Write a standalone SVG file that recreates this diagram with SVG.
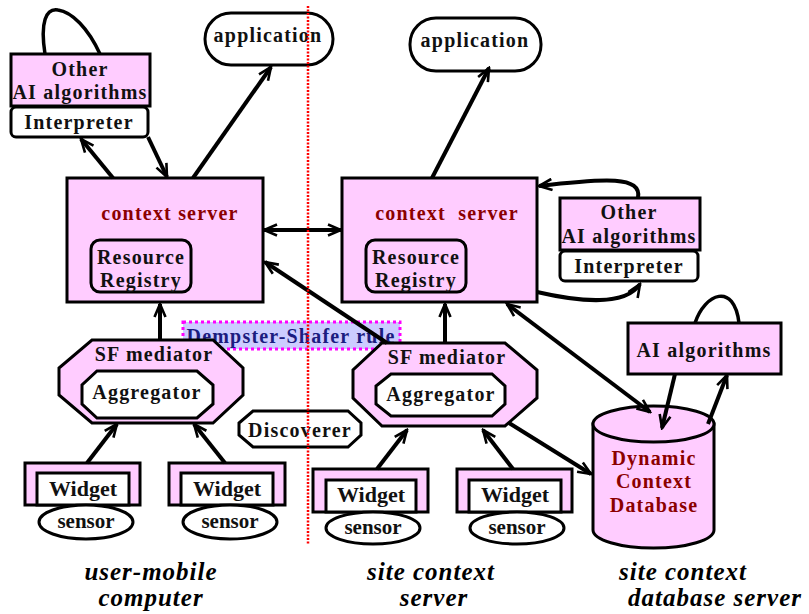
<svg xmlns="http://www.w3.org/2000/svg" width="809" height="614" viewBox="0 0 809 614">
  <style>
    .box { fill: #ffccff; stroke: #000; stroke-width: 3; }
    .wbox { fill: #fff; stroke: #000; stroke-width: 3; }
    .t { font-family: "Liberation Serif", "Times New Roman", serif; font-weight: bold; font-size: 20px; fill: #111; text-anchor: middle; letter-spacing: 1.2px; }
    .red { fill: #8b0000; }
    .ds { fill: #1c1c80; }
    .w { font-size: 22px; letter-spacing: 0; }
    .s { font-size: 21px; letter-spacing: 0; }
    .cap { font-family: "Liberation Serif", "Times New Roman", serif; font-weight: bold; font-style: italic; font-size: 25px; fill: #000; text-anchor: middle; letter-spacing: 1px; }
    .c { fill: none; stroke: #000; stroke-width: 4; marker-end: url(#ah); }
    .c2 { marker-start: url(#ah); }
    .loop { fill: none; stroke: #000; stroke-width: 3.5; }
  </style>
  <defs>
    <marker id="ah" viewBox="0 0 16 14" refX="14" refY="7" markerWidth="16" markerHeight="14" markerUnits="userSpaceOnUse" orient="auto-start-reverse">
      <path d="M1,1.5 L14,7 L1,12.5" fill="none" stroke="#000" stroke-width="2.6" stroke-linejoin="miter"/>
    </marker>
  </defs>

  <!-- user-mobile computer side -->
  <g id="left-other-ai">
    <rect class="box" x="11" y="54" width="139" height="52"/>
    <text class="t" x="80" y="76">Other</text>
    <text class="t" x="80" y="99">AI algorithms</text>
  </g>
  <g id="left-interpreter">
    <rect class="wbox" x="11" y="107" width="137" height="30" rx="5"/>
    <text class="t" x="79" y="129">Interpreter</text>
  </g>
  <g id="left-application">
    <rect class="wbox" x="205" y="13" width="128" height="52" rx="26"/>
    <text class="t" x="268" y="42">application</text>
  </g>
  <g id="left-context-server">
    <rect class="box" x="67" y="178" width="196" height="124"/>
    <text class="t red" x="170" y="220">context server</text>
    <rect class="box" x="91" y="240" width="100" height="52" rx="9"/>
    <text class="t" x="141" y="264">Resource</text>
    <text class="t" x="141" y="287">Registry</text>
  </g>
  <g id="dempster-shafer">
    <rect x="183" y="322" width="217" height="27" fill="#ccccff" stroke="#ff00ff" stroke-width="3" stroke-dasharray="3,3"/>
    <text class="t ds" x="291" y="343">Dempster-Shafer rule</text>
  </g>
  <g id="left-sf-mediator">
    <polygon class="box" points="92,340 213,340 243,368 243,395 213,423 92,423 59,395 59,368"/>
    <text class="t" x="154" y="361">SF mediator</text>
    <polygon class="wbox" points="97,371 197,371 213,385 213,404 197,418 97,418 82,404 82,385"/>
    <text class="t" x="147" y="399">Aggregator</text>
  </g>
  <g id="discoverer">
    <polygon class="wbox" points="253,411 348,411 361,423 361,435 348,447 253,447 239,435 239,423"/>
    <text class="t" x="300" y="437">Discoverer</text>
  </g>
  <g id="left-widget-1">
    <rect class="box" x="25" y="463" width="115" height="42"/>
    <rect class="wbox" x="37" y="473" width="92" height="32"/>
    <text class="t w" x="83" y="496">Widget</text>
    <ellipse class="wbox" cx="86" cy="522" rx="47" ry="17"/>
    <text class="t s" x="86" y="528">sensor</text>
  </g>
  <g id="left-widget-2">
    <rect class="box" x="169" y="463" width="116" height="42"/>
    <rect class="wbox" x="181" y="473" width="92" height="32"/>
    <text class="t w" x="227" y="496">Widget</text>
    <ellipse class="wbox" cx="230" cy="522" rx="47" ry="17"/>
    <text class="t s" x="230" y="528">sensor</text>
  </g>

  <!-- site context server side -->
  <g id="right-application">
    <rect class="wbox" x="410" y="18" width="131" height="53" rx="26"/>
    <text class="t" x="475" y="47">application</text>
  </g>
  <g id="right-context-server">
    <rect class="box" x="342" y="178" width="195" height="124"/>
    <text class="t red" x="447" y="220" xml:space="preserve">context  server</text>
    <rect class="box" x="366" y="240" width="100" height="52" rx="9"/>
    <text class="t" x="416" y="264">Resource</text>
    <text class="t" x="416" y="287">Registry</text>
  </g>
  <g id="right-other-ai">
    <rect class="box" x="560" y="198" width="140" height="52"/>
    <text class="t" x="629" y="219">Other</text>
    <text class="t" x="629" y="243">AI algorithms</text>
  </g>
  <g id="right-interpreter">
    <rect class="wbox" x="560" y="251" width="138" height="30" rx="5"/>
    <text class="t" x="629" y="273">Interpreter</text>
  </g>
  <g id="right-sf-mediator">
    <polygon class="box" points="382,343 505,343 537,370 537,398 505,426 382,426 353,398 353,370"/>
    <text class="t" x="447" y="364">SF mediator</text>
    <polygon class="wbox" points="391,374 492,374 505,386 505,404 492,416 391,416 376,404 376,386"/>
    <text class="t" x="441" y="401">Aggregator</text>
  </g>
  <g id="right-widget-1">
    <rect class="box" x="313" y="469" width="115" height="43"/>
    <rect class="wbox" x="326" y="480" width="90" height="32"/>
    <text class="t w" x="371" y="502">Widget</text>
    <ellipse class="wbox" cx="373" cy="528" rx="47" ry="16"/>
    <text class="t s" x="373" y="534">sensor</text>
  </g>
  <g id="right-widget-2">
    <rect class="box" x="457" y="469" width="115" height="43"/>
    <rect class="wbox" x="469" y="480" width="92" height="32"/>
    <text class="t w" x="515" y="502">Widget</text>
    <ellipse class="wbox" cx="517" cy="528" rx="47" ry="16"/>
    <text class="t s" x="517" y="534">sensor</text>
  </g>

  <!-- site context database server side -->
  <g id="ai-algorithms">
    <rect class="box" x="628" y="323" width="153" height="51"/>
    <text class="t" x="704" y="357">AI algorithms</text>
  </g>
  <g id="context-database">
    <path class="box" d="M593,424 L593,530 A60.5,18 0 0 0 714,530 L714,424 Z"/>
    <ellipse class="box" cx="653.5" cy="424" rx="60.5" ry="18"/>
    <text class="t red" x="654" y="465">Dynamic</text>
    <text class="t red" x="654" y="488">Context</text>
    <text class="t red" x="654" y="512">Database</text>
  </g>

  <!-- connectors -->
  <g id="connectors">
    <path class="loop" d="M45,54 C40,22 46,8 58,10 C72,12 88,28 100,54"/>
    <path class="c" d="M113,178 L81,139"/>
    <path class="c" d="M148,137 L167,177"/>
    <path class="c" d="M193,178 L271,67"/>
    <path class="c c2" d="M264,230 L341,230"/>
    <path class="c" d="M387,343 L265,262"/>
    <path class="c" d="M160,340 L160,304"/>
    <path class="c" d="M87,463 L117,424"/>
    <path class="c" d="M225,463 L194,424"/>
    <path class="c" d="M432,178 L489,68"/>
    <path class="c" d="M638,198 C642,176 606,178 539,186"/>
    <path class="c" d="M537,292 C580,302 626,306 640,284"/>
    <path class="c" d="M445,343 L445,304"/>
    <path class="c" d="M377,469 L407,430"/>
    <path class="c" d="M513,469 L483,430"/>
    <path class="c c2" d="M507,304 L650,412"/>
    <path class="c" d="M509,423 L591,474"/>
    <path class="c" d="M675,374 L662,428"/>
    <path class="c" d="M708,424 L727,375"/>
    <path class="loop" d="M695,323 C705,293 734,282 739,323"/>
  </g>

  <!-- server boundary -->
  <line x1="308" y1="6" x2="308" y2="544" stroke="#ff0000" stroke-width="2.5" stroke-dasharray="2,1.5"/>

  <!-- location captions -->
  <text class="cap" x="151" y="580">user-mobile</text>
  <text class="cap" x="151" y="606">computer</text>
  <text class="cap" x="431" y="580">site context</text>
  <text class="cap" x="434" y="606">server</text>
  <text class="cap" x="683" y="580">site context</text>
  <text class="cap" x="715" y="606">database server</text>
</svg>
